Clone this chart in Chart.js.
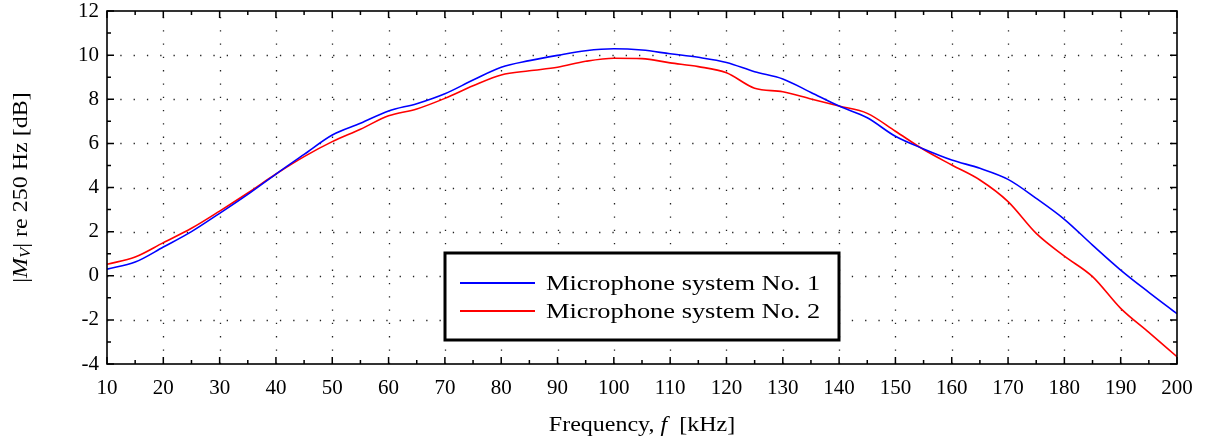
<!DOCTYPE html>
<html>
<head>
<meta charset="utf-8">
<script src="https://cdn.jsdelivr.net/npm/chart.js@4.4.1/dist/chart.umd.min.js"></script>
<style>
  html, body { margin: 0; padding: 0; background: #fff; }
  #wrap { width: 1216px; height: 443px; position: relative; }
</style>
</head>
<body>
<div id="wrap"><canvas id="micChart"></canvas></div>
<script>
// frequency grid in kHz
const freqKHz = [10, 15, 20, 25, 30, 35, 40, 45, 50, 55, 60, 65, 70, 75, 80, 85, 90, 95, 100,
    105, 110, 115, 120, 125, 130, 135, 140, 145, 150, 155, 160, 165, 170, 175, 180, 185, 190, 195, 200];

// |M_V| re 250 Hz, dB
const micSystem1 = [0.30, 0.62, 1.30, 2.00, 2.83, 3.69, 4.61, 5.50, 6.38, 6.91, 7.47, 7.80, 8.25, 8.87, 9.45,
    9.75, 9.99, 10.20, 10.29, 10.23, 10.06, 9.90, 9.67, 9.25, 8.92, 8.31, 7.69, 7.16, 6.32, 5.75,
    5.25, 4.87, 4.37, 3.51, 2.56, 1.39, 0.26, -0.75, -1.72];
const micSystem2 = [0.52, 0.85, 1.50, 2.15, 2.93, 3.75, 4.61, 5.40, 6.08, 6.64, 7.25, 7.56, 8.04, 8.61, 9.10,
    9.29, 9.45, 9.72, 9.86, 9.84, 9.65, 9.48, 9.20, 8.50, 8.34, 8.01, 7.69, 7.36, 6.55, 5.72,
    5.02, 4.34, 3.36, 1.92, 0.89, -0.04, -1.48, -2.57, -3.67];

const seriesLabels = ['Microphone system No. 1', 'Microphone system No. 2'];

const xTicks = { min: 10, max: 200, major: 10, minor: 5 };
const yTicks = { min: -4, max: 12, major: 2, minor: 1 };

const SERIF = "'Liberation Serif', 'Times New Roman', serif";
const STRETCH = 1.2; // widen the serif text a little

function toPoints(ys) {
    return freqKHz.map((f, i) => ({ x: f, y: ys[i] }));
}

// draws a run of text pieces (mixed upright/italic), widened horizontally
function drawRun(ctx, parts, x, y, align) {
    let total = 0;
    parts.forEach(p => { ctx.font = p.f; p.w = ctx.measureText(p.t).width; total += p.w; });
    ctx.save();
    ctx.translate(x, y);
    ctx.scale(STRETCH, 1);
    let cx = align === 'center' ? -total / 2 : 0;
    parts.forEach(p => { ctx.font = p.f; ctx.fillText(p.t, cx, p.dy || 0); cx += p.w; });
    ctx.restore();
}

// dotted grid under the curves
const dottedGrid = {
    id: 'dottedGrid',
    beforeDatasetsDraw(chart) {
        const { ctx, chartArea: a, scales: { x, y } } = chart;
        ctx.save();
        ctx.strokeStyle = '#222';
        ctx.lineWidth = 1.3;
        ctx.setLineDash([1.3, 12]);
        for (let v = xTicks.min + xTicks.major; v < xTicks.max; v += xTicks.major) {
            const px = Math.round(x.getPixelForValue(v)) + 0.5;
            ctx.beginPath();
            ctx.moveTo(px, a.bottom);
            ctx.lineTo(px, a.top);
            ctx.stroke();
        }
        for (let v = yTicks.min + yTicks.major; v < yTicks.max; v += yTicks.major) {
            const py = Math.round(y.getPixelForValue(v)) + 0.5;
            ctx.beginPath();
            ctx.moveTo(a.left, py);
            ctx.lineTo(a.right, py);
            ctx.stroke();
        }
        ctx.restore();
    }
};

// box, inward ticks on all four sides, axis titles, legend
const frameAndLegend = {
    id: 'frameAndLegend',
    afterDraw(chart) {
        const { ctx, chartArea: a, scales: { x, y } } = chart;
        ctx.save();
        ctx.strokeStyle = '#000';
        ctx.lineWidth = 1.5;

        ctx.beginPath();
        for (let v = xTicks.min; v <= xTicks.max; v += xTicks.minor) {
            const len = (v % xTicks.major === 0) ? 7 : 4;
            const px = x.getPixelForValue(v);
            ctx.moveTo(px, a.bottom); ctx.lineTo(px, a.bottom - len);
            ctx.moveTo(px, a.top); ctx.lineTo(px, a.top + len);
        }
        for (let v = yTicks.min; v <= yTicks.max; v += yTicks.minor) {
            const len = (v % yTicks.major === 0) ? 7 : 4;
            const py = y.getPixelForValue(v);
            ctx.moveTo(a.left, py); ctx.lineTo(a.left + len, py);
            ctx.moveTo(a.right, py); ctx.lineTo(a.right - len, py);
        }
        ctx.stroke();

        ctx.lineWidth = 1.6;
        ctx.strokeRect(a.left, a.top, a.right - a.left, a.bottom - a.top);

        ctx.fillStyle = '#000';
        ctx.textBaseline = 'alphabetic';

        // x title: Frequency, f [kHz]
        drawRun(ctx, [
            { t: 'Frequency, ', f: '20px ' + SERIF },
            { t: 'f', f: 'italic 20px ' + SERIF },
            { t: '  [kHz]', f: '20px ' + SERIF }
        ], (a.left + a.right) / 2, 431, 'center');

        // y title: |M_V| re 250 Hz [dB]
        ctx.save();
        ctx.translate(27, (a.top + a.bottom) / 2);
        ctx.rotate(-Math.PI / 2);
        drawRun(ctx, [
            { t: '|', f: '20px ' + SERIF },
            { t: 'M', f: 'italic 20px ' + SERIF },
            { t: 'V', f: 'italic 14px ' + SERIF, dy: 3 },
            { t: '| re 250 Hz [dB]', f: '20px ' + SERIF }
        ], 0, 0, 'center');
        ctx.restore();

        // legend box
        const bx = 445, by = 253, bw = 394, bh = 87;
        ctx.fillStyle = '#fff';
        ctx.fillRect(bx, by, bw, bh);
        ctx.lineWidth = 3;
        ctx.strokeStyle = '#000';
        ctx.strokeRect(bx, by, bw, bh);
        ctx.textBaseline = 'middle';
        chart.data.datasets.forEach((ds, i) => {
            const ly = 283 + i * 28;
            ctx.strokeStyle = ds.borderColor;
            ctx.lineWidth = 1.8;
            ctx.beginPath();
            ctx.moveTo(460, ly);
            ctx.lineTo(535, ly);
            ctx.stroke();
            ctx.fillStyle = '#000';
            drawRun(ctx, [{ t: ds.label, f: '22px ' + SERIF }], 546, ly + 1, 'left');
        });
        ctx.restore();
    }
};

new Chart(document.getElementById('micChart'), {
    type: 'line',
    data: {
        datasets: [{
            label: seriesLabels[0],
            data: toPoints(micSystem1),
            borderColor: '#0000ff',
            borderWidth: 1.6,
            pointRadius: 0,
            cubicInterpolationMode: 'monotone',
            fill: false
        }, {
            label: seriesLabels[1],
            data: toPoints(micSystem2),
            borderColor: '#ff0000',
            borderWidth: 1.6,
            pointRadius: 0,
            cubicInterpolationMode: 'monotone',
            fill: false
        }]
    },
    options: {
        responsive: true,
        maintainAspectRatio: false,
        animation: false,
        devicePixelRatio: 1,
        layout: {
            padding: { top: 11, right: 39, left: 0, bottom: 0 }
        },
        plugins: {
            legend: { display: false },
            tooltip: { enabled: false }
        },
        scales: {
            x: {
                type: 'linear',
                min: xTicks.min,
                max: xTicks.max,
                grid: { display: false, drawTicks: false },
                border: { display: false },
                ticks: {
                    stepSize: xTicks.major,
                    padding: 12,
                    color: '#000',
                    maxRotation: 0,
                    autoSkip: false,
                    font: { family: SERIF, size: 21 }
                },
                afterFit(scale) {
                    scale.height = 79;
                    scale.paddingLeft = 0;
                    scale.paddingRight = 0;
                }
            },
            y: {
                type: 'linear',
                min: yTicks.min,
                max: yTicks.max,
                grid: { display: false, drawTicks: false },
                border: { display: false },
                ticks: {
                    stepSize: yTicks.major,
                    padding: 8,
                    color: '#000',
                    font: { family: SERIF, size: 21 }
                },
                afterFit(scale) {
                    scale.width = 107;
                    scale.paddingTop = 0;
                    scale.paddingBottom = 0;
                }
            }
        }
    },
    plugins: [dottedGrid, frameAndLegend]
});
</script>
</body>
</html>
